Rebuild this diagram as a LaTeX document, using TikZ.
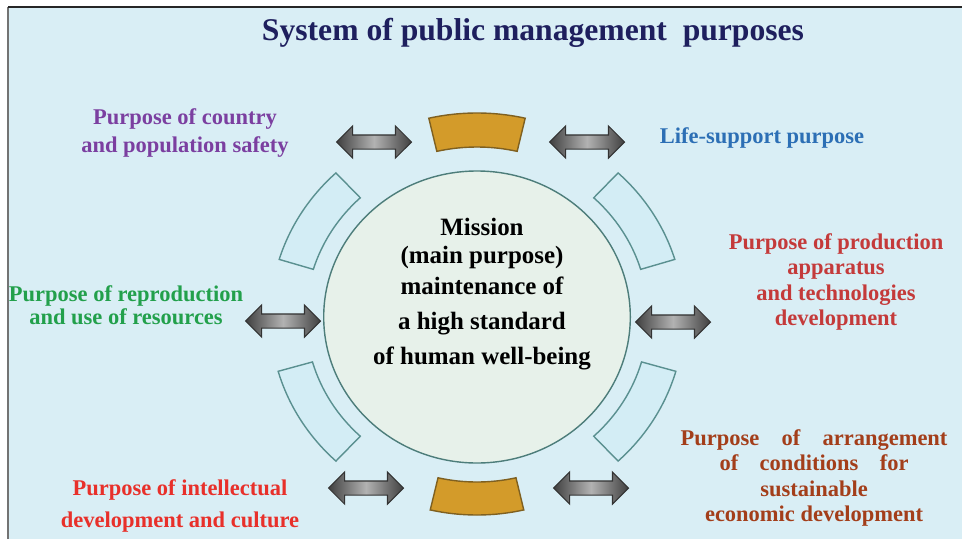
\documentclass[tikz,border=0pt]{standalone}
\usepackage{fontspec}
\setmainfont{Liberation Serif}
\usetikzlibrary{shapes.arrows}

\definecolor{bgblue}{HTML}{D9EEF5}
\definecolor{titlenavy}{HTML}{1E1F5E}
\definecolor{missionfill}{HTML}{E7F1EA}
\definecolor{missionline}{HTML}{4D7D7A}
\definecolor{segfill}{HTML}{D3EDF5}
\definecolor{segline}{HTML}{5A9090}
\definecolor{goldfill}{HTML}{D39B2A}
\definecolor{goldline}{HTML}{7F6020}
\definecolor{safetyc}{HTML}{7B3FA0}
\definecolor{lifec}{HTML}{2C6FB5}
\definecolor{resourcec}{HTML}{22A04B}
\definecolor{productionc}{HTML}{C43A3A}
\definecolor{economyc}{HTML}{A33E1A}
\definecolor{culturec}{HTML}{E8302A}

\tikzset{
  goal/.style={font=\bfseries\fontsize{12.8}{14.5}\selectfont, align=center, inner sep=0pt},
  bothways/.style={double arrow, draw=black!80, line width=0.6pt,
    left color=black!75, right color=black!75, middle color=black!30,
    minimum height=1.5cm, minimum width=0.62cm, double arrow head extend=0.18cm,
    inner xsep=0pt, inner ysep=0.13cm},
  ring/.style={draw=segline, fill=segfill, line width=0.8pt},
  goldring/.style={draw=goldline, fill=goldfill, line width=0.8pt}
}

\begin{document}
\begin{tikzpicture}[x=0.02cm,y=0.02cm]
\useasboundingbox (0,0) rectangle (962,539);
\fill[white] (0,0) rectangle (962,539);
\fill[bgblue] (9,0) rectangle (962,531);
\draw[black!55, line width=1.5pt] (8,0) -- (8,532);
\draw[black!85, line width=0.8pt] (8,532) -- (962,532);

\node[font=\bfseries\fontsize{18}{22}\selectfont, text=titlenavy, inner sep=0pt]
  (title) at (533,506) {System of public management\ \ purposes};

\begin{scope}[shift={(477,222)}, xscale=1.05]
\draw[draw=missionline, fill=missionfill, line width=0.8pt] (0,0) circle[radius=146];
\foreach \a/\b in {17/47, 133/163, 196/227, 313/344}
  \draw[ring] (\a:163) arc[start angle=\a, end angle=\b, radius=163]
    -- (\b:197) arc[start angle=\b, end angle=\a, radius=197] -- cycle;
\draw[goldring] (77:170) arc[start angle=77, end angle=103, radius=170]
  -- (103:204) arc[start angle=103, end angle=77, radius=204] -- cycle;
\draw[goldring] (257:165) arc[start angle=257, end angle=283, radius=165]
  -- (283:198) arc[start angle=283, end angle=257, radius=198] -- cycle;
\end{scope}

\node[font=\bfseries\fontsize{14.2}{15.5}\selectfont, align=center, inner sep=0pt]
  (mission) at (482,245) {Mission\\(main purpose)\\[2.7pt]maintenance of\\[4.4pt]a high standard\\[3.9pt]of human well-being};

\node[bothways] (arrTL) at (374,397) {};
\node[bothways] (arrTR) at (587,397) {};
\node[bothways] (arrL) at (283,218) {};
\node[bothways] (arrR) at (673,217) {};
\node[bothways] (arrBL) at (366,51) {};
\node[bothways] (arrBR) at (591,51) {};

\node[goal, text=safetyc, font=\bfseries\fontsize{12.8}{16}\selectfont] (safety) at (185,406) {Purpose of country\\and population safety};
\node[goal, text=lifec] (life) at (762,401) {Life-support purpose};
\node[goal, text=resourcec, font=\bfseries\fontsize{12.8}{13.4}\selectfont] (resources) at (126,234) {Purpose of reproduction\\and use of resources};
\node[goal, text=productionc] (production) at (836,257) {Purpose of production\\apparatus\\and technologies\\development};
\node[goal, text=economyc] (economy) at (814,61) {\makebox[5.34cm][s]{Purpose of arrangement}\\\makebox[3.78cm][s]{of conditions for}\\sustainable\\economic development};
\node[goal, text=culturec, font=\bfseries\fontsize{12.8}{18}\selectfont] (culture) at (180,33) {Purpose of intellectual\\development and culture};
\end{tikzpicture}
\end{document}
